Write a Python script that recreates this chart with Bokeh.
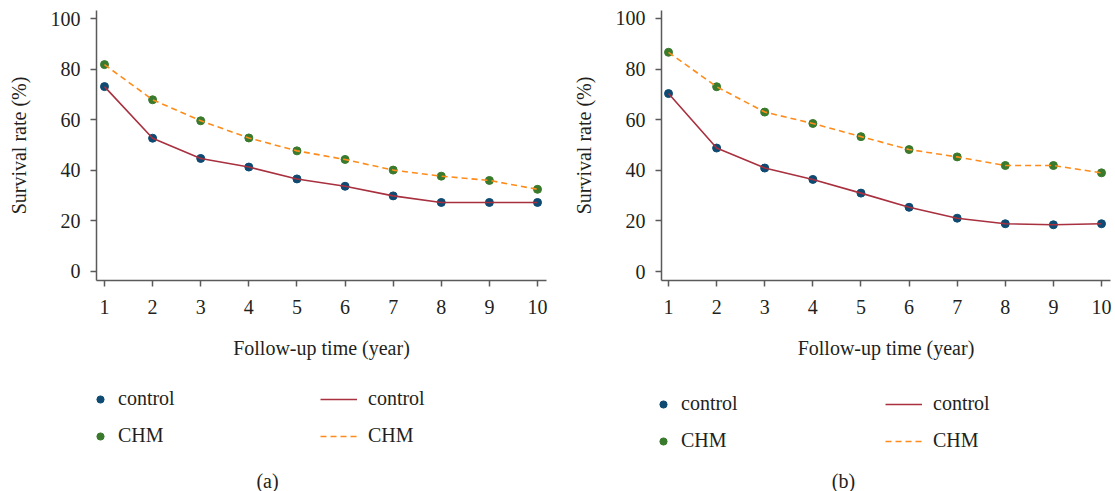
from bokeh.plotting import figure
from bokeh.layouts import row, column
from bokeh.models import Legend, LegendItem, Label, FixedTicker, Range1d
from bokeh.embed import file_html
from bokeh.resources import INLINE

years = [1, 2, 3, 4, 5, 6, 7, 8, 9, 10]
a_control = [73.1, 52.7, 44.7, 41.3, 36.6, 33.7, 29.9, 27.3, 27.3, 27.3]
a_chm = [81.8, 67.9, 59.6, 52.8, 47.7, 44.3, 40.1, 37.7, 36.0, 32.5]
b_control = [70.3, 48.8, 40.9, 36.4, 31.0, 25.4, 21.1, 18.9, 18.5, 18.9]
b_chm = [86.6, 73.0, 63.0, 58.5, 53.3, 48.2, 45.3, 41.9, 41.9, 39.0]
y_ticks = [0, 20, 40, 60, 80, 100]
x_label = "Follow-up time (year)"
y_label = "Survival rate (%)"
series_names = ["control", "CHM"]
panel_tags = ["(a)", "(b)"]

FONT = "Liberation Serif"
TXT = "#231f20"
AX = "#5a5a5a"
C_CTRL_PT = "#0e4a72"
C_CHM_PT = "#3a7a2c"
C_CTRL_LN = "#a8303f"
C_CHM_LN = "#ff8c1a"
TOP_H = 372
BOT_H = 491 - TOP_H


def draw_series(p, ctrl, chm, visible=True):
    s1 = p.scatter(years, ctrl, size=8, color=C_CTRL_PT, visible=visible)
    s2 = p.scatter(years, chm, size=8, color=C_CHM_PT, visible=visible)
    l1 = p.line(years, ctrl, line_color=C_CTRL_LN, line_width=1.6, visible=visible)
    l2 = p.line(years, chm, line_color=C_CHM_LN, line_width=1.6, line_dash="6 4",
                visible=visible)
    return s1, s2, l1, l2


def panel(ctrl, chm, width, left, right, xr, yr, bottom):
    p = figure(width=width, height=TOP_H, output_backend="svg", toolbar_location=None,
               x_range=Range1d(*xr), y_range=Range1d(*yr),
               min_border_left=left, min_border_right=right,
               min_border_top=10, min_border_bottom=bottom)
    p.outline_line_color = None
    p.grid.visible = False
    draw_series(p, ctrl, chm)

    p.xaxis.ticker = FixedTicker(ticks=years)
    p.yaxis.ticker = FixedTicker(ticks=y_ticks)
    for ax in (p.xaxis[0], p.yaxis[0]):
        ax.axis_line_color = AX
        ax.axis_line_width = 1.5
        ax.major_tick_line_color = AX
        ax.major_tick_line_width = 1.5
        ax.major_tick_in = 0
        ax.major_tick_out = 6
        ax.minor_tick_line_color = None
        ax.major_label_text_font = FONT
        ax.major_label_text_font_size = "20px"
        ax.major_label_text_color = TXT
        ax.axis_label_text_font = FONT
        ax.axis_label_text_font_size = "20px"
        ax.axis_label_text_font_style = "normal"
        ax.axis_label_text_color = TXT
    p.xaxis.axis_label = x_label
    p.yaxis.axis_label = y_label
    p.xaxis.major_label_standoff = 13
    p.xaxis.axis_label_standoff = 20
    p.yaxis.major_label_standoff = 10
    p.yaxis.axis_label_standoff = 18
    return p


pa = panel(a_control, a_chm, 557, 96, 11, (0.834, 10.187), (-3.56, 103.2), TOP_H - 280)
pb = panel(b_control, b_chm, 558, 104, 5, (0.854, 10.187), (-3.5, 103.1), TOP_H - 283)

# legend strip below both panels (pixel-aligned ranges)
lg = figure(width=1115, height=BOT_H, output_backend="svg", toolbar_location=None,
            x_range=Range1d(0, 1115), y_range=Range1d(0, BOT_H),
            min_border=0, min_border_left=0, min_border_right=0,
            min_border_top=0, min_border_bottom=0)
lg.axis.visible = False
lg.grid.visible = False
lg.outline_line_color = None

common = dict(border_line_color=None, background_fill_alpha=0,
              label_text_font=FONT, label_text_font_size="20px",
              label_text_color=TXT, padding=0, margin=0, spacing=14,
              glyph_height=20, label_height=20)

specs = [
    (a_control, a_chm, 91, 320, 491 - 447, 267, 491 - 480, panel_tags[0]),
    (b_control, b_chm, 654, 885, 491 - 452, 843, 491 - 480, panel_tags[1]),
]
for ctrl, chm, x1, x2, ybot, tx, ty, tag in specs:
    s1, s2, l1, l2 = draw_series(lg, ctrl, chm, visible=False)
    leg1 = Legend(items=[LegendItem(label=series_names[0], renderers=[s1]),
                         LegendItem(label=series_names[1], renderers=[s2])],
                  location=(x1, ybot), glyph_width=18, label_standoff=9, **common)
    leg2 = Legend(items=[LegendItem(label=series_names[0], renderers=[l1]),
                         LegendItem(label=series_names[1], renderers=[l2])],
                  location=(x2, ybot), glyph_width=37, label_standoff=11, **common)
    lg.add_layout(leg1)
    lg.add_layout(leg2)
    lg.add_layout(Label(x=tx, y=ty, text=tag, text_font=FONT,
                        text_font_size="20px", text_color=TXT,
                        text_align="center", text_baseline="middle"))

layout = column(row(pa, pb, spacing=0), lg, spacing=0)
open("out.html", "w").write(file_html(layout, INLINE))
